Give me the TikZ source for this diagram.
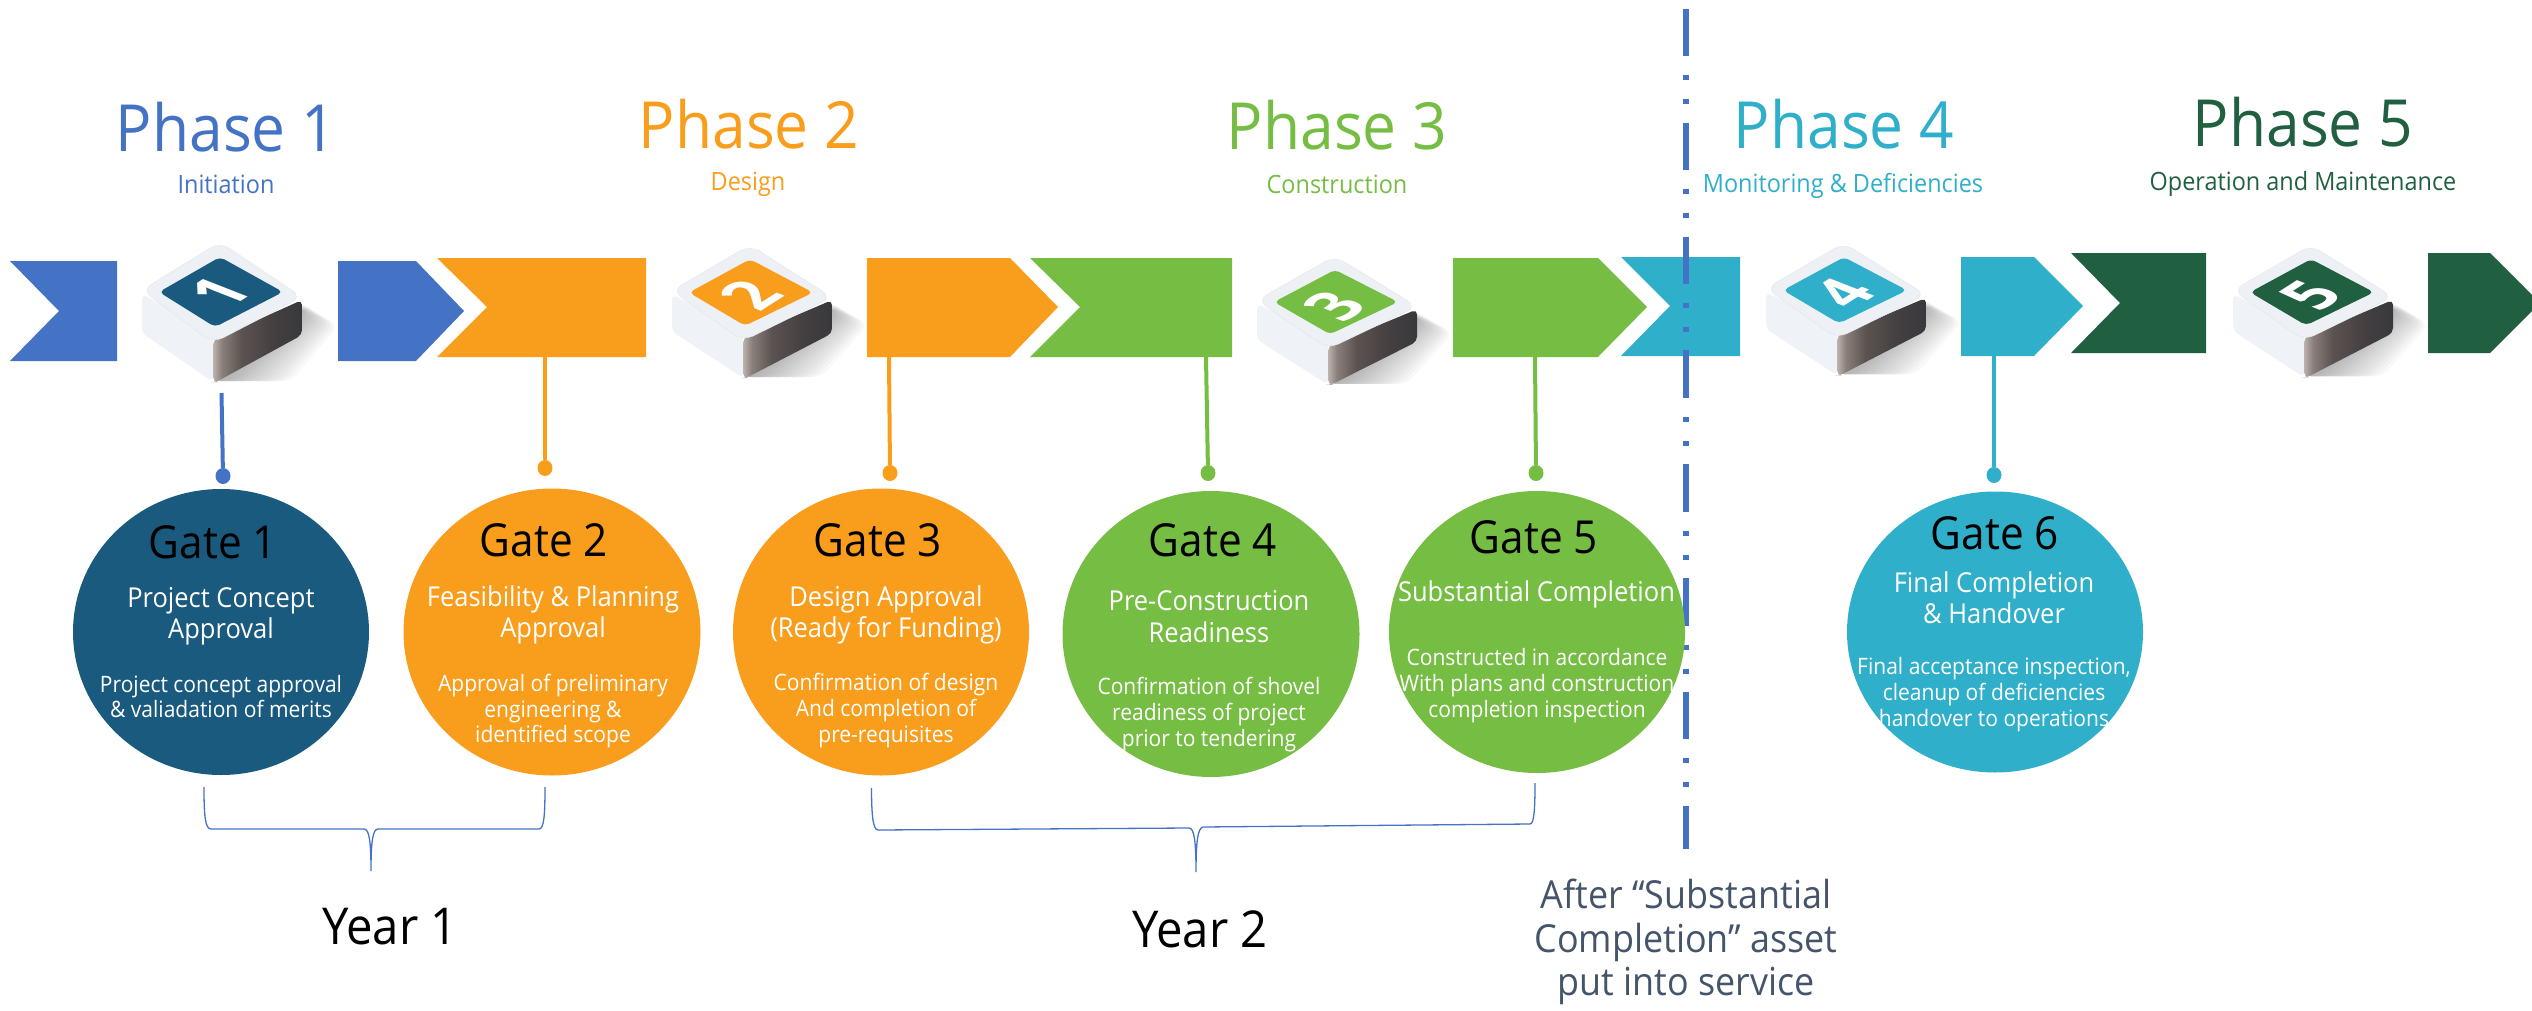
\documentclass[tikz,border=0pt]{standalone}
\usepackage{fontspec}
\setmainfont[FakeStretch=0.93]{Open Sans}
\usetikzlibrary{shapes.geometric}
\definecolor{cblue}{HTML}{4472C4}
\definecolor{corange}{HTML}{F99D1C}
\definecolor{cgreen}{HTML}{76BD43}
\definecolor{cteal}{HTML}{2FAFC9}
\definecolor{cdark}{HTML}{206040}
\definecolor{cnavy}{HTML}{1A5A7E}
\definecolor{cslate}{HTML}{44546A}
\definecolor{cface}{HTML}{EDF1F5}
\definecolor{cside}{HTML}{EFF2F6}
\definecolor{cshA}{HTML}{BDB3AD}
\definecolor{cshB}{HTML}{8A7F7A}
\definecolor{cshC}{HTML}{5B5351}
\definecolor{cshD}{HTML}{454041}
\definecolor{cshE}{HTML}{38383C}
\pgfdeclarehorizontalshading{cubeside}{100bp}{color(0bp)=(cshA); color(25bp)=(cshA); color(30bp)=(cshB); color(41bp)=(cshC); color(58bp)=(cshD); color(75bp)=(cshE); color(100bp)=(cshE)}
\newcommand{\fs}[1]{\fontsize{#1}{#1}\selectfont}
% cube: top vertex x, top vertex y, yscale, colour, digit
\newcommand{\keycube}[5]{%
\begin{scope}[shift={(#1,#2)},yscale=#3]
 \foreach \g in {0,...,14}{
  \fill[black,opacity=.024,rounded corners=8pt] (80,{60+.4*\g}) -- ({118-2.5*\g},{84-1.0*\g}) -- ({72-5*\g},139) -- (-7,139) -- cycle;}
 \fill[cside,rounded corners=5pt] (-78,52) -- (-78,91) -- (-7,140) -- (-7,90) -- cycle;
 \shade[shading=cubeside,rounded corners=5pt] (-7,98) -- (82,58) -- (82,93) -- (-4,140) -- (-7,140) -- cycle;
 \fill[cface,draw=black!10,line width=.4pt,rounded corners=11pt] (0,0) -- (82,55) -- (-7,101) -- (-78,48) -- cycle;
 \fill[#4,rounded corners=5pt] (0,15) -- (63,50) -- (-5,85) -- (-61,50) -- cycle;
 \node[inner sep=0,text=white,font=\fs{68}\bfseries,cm={.75,.48,-.92,.36,(0,50)}] {#5};
\end{scope}}
\tikzset{
 gate/.style={ellipse,inner sep=0,fill=#1},
 dotnode/.style={ellipse,inner sep=0,minimum width=15pt,minimum height=16pt,fill=#1},
 conn/.style={draw=#1,line width=4pt},
 brace/.style={draw=cblue,line width=1.3pt},
 lab/.style={inner sep=0,anchor=base,align=center},
 phase/.style={lab,font=\fs{65}},
 sub/.style={lab,font=\fs{25.2}},
 gt/.style={lab,text=black,font=\fs{45.5}},
 bd/.style={lab,text=white,font=\fs{27.4}},
 sm/.style={lab,text=white,font=\fs{22.6}},
 yr/.style={lab,text=black,font=\fs{50.8}},
 after/.style={lab,text=cslate,font=\fs{38.6}},
}
\begin{document}
\begin{tikzpicture}[x=1pt,y=-1pt]
\useasboundingbox (0,0) rectangle (2532,1011);
% band
\fill[cblue] (10,261) -- (117,261) -- (117,361) -- (10,361) -- (59,311) -- cycle;
\fill[cblue] (338,261) -- (416,261) -- (464,311) -- (416,361) -- (338,361) -- cycle;
\fill[corange] (437,258) -- (646,258) -- (646,357) -- (437,357) -- (487,307) -- cycle;
\fill[corange] (867,258) -- (1010,258) -- (1058,307) -- (1010,357) -- (867,357) -- cycle;
\fill[cgreen] (1030,258) -- (1232,258) -- (1232,357) -- (1030,357) -- (1080,307) -- cycle;
\fill[cgreen] (1453,258) -- (1598,258) -- (1647,307) -- (1598,357) -- (1453,357) -- cycle;
\fill[cteal] (1621,257) -- (1740,257) -- (1740,356) -- (1621,356) -- (1670,306) -- cycle;
\fill[cteal] (1961,257) -- (2034,257) -- (2083,306) -- (2034,356) -- (1961,356) -- cycle;
\fill[cdark] (2071,253) -- (2206,253) -- (2206,353) -- (2071,353) -- (2120,303) -- cycle;
\fill[cdark] (2428,253) -- (2490,253) -- (2532,295) -- (2532,311) -- (2490,353) -- (2428,353) -- cycle;
% cubes
\keycube{220}{242}{1}{cnavy}{1}
\keycube{750}{245}{.95}{corange}{2}
\keycube{1335}{256}{.92}{cgreen}{3}
\keycube{1844}{243}{.945}{cteal}{4}
\keycube{2311}{245}{.945}{cdark}{5}
% divider
\coordinate (divtop) at (1686,9);
\coordinate (divbot) at (1686,849);
\draw[cblue,line width=6pt,dash pattern=on 47.5pt off 19pt on 5pt off 19pt on 5pt off 18.3pt] (divtop) -- (divbot);
% gates
\node[gate=cnavy,minimum width=296pt,minimum height=286pt] (g1) at (221,632) {};
\node[gate=corange,minimum width=297pt,minimum height=287pt] (g2) at (552,632) {};
\node[gate=corange,minimum width=296pt,minimum height=287pt] (g3) at (881,632) {};
\node[gate=cgreen,minimum width=297pt,minimum height=286pt] (g4) at (1211,634) {};
\node[gate=cgreen,minimum width=296pt,minimum height=282pt] (g5) at (1537,632) {};
\node[gate=cteal,minimum width=296pt,minimum height=281pt] (g6) at (1995,632) {};
% connectors
\coordinate (t1) at (221.5,393);
\coordinate (t2) at (545,357);
\coordinate (t3) at (889,357);
\coordinate (t4) at (1206,357);
\coordinate (t5) at (1535,357);
\coordinate (t6) at (1994,356);
\node[dotnode=cblue] (d1) at (223,476) {};
\node[dotnode=corange] (d2) at (545,468) {};
\node[dotnode=corange] (d3) at (890,473) {};
\node[dotnode=cgreen] (d4) at (1208,473) {};
\node[dotnode=cgreen] (d5) at (1536,473) {};
\node[dotnode=cteal] (d6) at (1994,475) {};
\draw[conn=cblue] (t1) -- (d1);
\draw[conn=corange] (t2) -- (d2);
\draw[conn=corange] (t3) -- (d3);
\draw[conn=cgreen] (t4) -- (d4);
\draw[conn=cgreen] (t5) -- (d5);
\draw[conn=cteal] (t6) -- (d6);
% braces
\draw[brace] (204,787) .. controls (204,815) and (205,829) .. (211,829) -- (364,829) .. controls (369,829) and (371,840) .. (371,871) .. controls (371,840) and (373,829) .. (378,829) -- (539,829) .. controls (544,829) and (545,815) .. (545,787);
\draw[brace] (871.5,788) .. controls (871.5,815) and (873,830) .. (878,830) -- (1189,828) .. controls (1194,828) and (1196,840) .. (1196,872) .. controls (1196,840) and (1198,828) .. (1203,827) -- (1530,824) .. controls (1534,824) and (1535,810) .. (1535,783);
% phase labels
\node[phase,text=cblue] (p1) at (226,152) {Phase 1};
\node[sub,text=cblue] (s1) at (226,194) {Initiation};
\node[phase,text=corange] (p2) at (749,149) {Phase 2};
\node[sub,text=corange] (s2) at (748,191) {Design};
\node[phase,text=cgreen] (p3) at (1337,150) {Phase 3};
\node[sub,text=cgreen] (s3) at (1337,194) {Construction};
\node[phase,text=cteal] (p4) at (1844,149) {Phase 4};
\node[sub,text=cteal] (s4) at (1843,193) {Monitoring \& Deficiencies};
\node[phase,text=cdark] (p5) at (2303,147) {Phase 5};
\node[sub,text=cdark] (s5) at (2303,191) {Operation and Maintenance};
% gate texts
\node[gt] (gt1) at (213,558) {Gate 1};
\node[bd] (b1a) at (221,607) {Project Concept};
\node[bd] (b1b) at (221,638) {Approval};
\node[sm] (m1a) at (221,692) {Project concept approval};
\node[sm] (m1b) at (221,717) {\& valiadation of merits};
\node[gt] (gt2) at (544,556) {Gate 2};
\node[bd] (b2a) at (553,606) {Feasibility \& Planning};
\node[bd] (b2b) at (553,637) {Approval};
\node[sm] (m2a) at (553,691) {Approval of preliminary};
\node[sm] (m2b) at (553,717) {engineering \&};
\node[sm] (m2c) at (553,742) {identified scope};
\node[gt] (gt3) at (878,556) {Gate 3};
\node[bd] (b3a) at (886,606) {Design Approval};
\node[bd] (b3b) at (886,637) {(Ready for Funding)};
\node[sm] (m3a) at (886,690) {Confirmation of design};
\node[sm] (m3b) at (886,716) {And completion of};
\node[sm] (m3c) at (886,742) {pre-requisites};
\node[gt] (gt4) at (1213,556) {Gate 4};
\node[bd] (b4a) at (1209,610) {Pre-Construction};
\node[bd] (b4b) at (1209,642) {Readiness};
\node[sm] (m4a) at (1209,694) {Confirmation of shovel};
\node[sm] (m4b) at (1209,720) {readiness of project};
\node[sm] (m4c) at (1209,746) {prior to tendering};
\node[gt] (gt5) at (1534,553) {Gate 5};
\node[bd] (b5a) at (1536.5,601) {Substantial Completion};
\node[sm] (m5a) at (1537,665) {Constructed in accordance};
\node[sm] (m5b) at (1537,691) {With plans and construction};
\node[sm] (m5c) at (1537,717) {completion inspection};
\node[gt] (gt6) at (1995,549) {Gate 6};
\node[bd] (b6a) at (1994,592) {Final Completion};
\node[bd] (b6b) at (1994,623) {\& Handover};
\node[sm] (m6a) at (1994,674) {Final acceptance inspection,};
\node[sm] (m6b) at (1994,700) {cleanup of deficiencies};
\node[sm] (m6c) at (1994,726) {handover to operations};
% years
\node[yr] (y1) at (390,944) {Year 1};
\node[yr] (y2) at (1200,947) {Year 2};
\node[after] (a1) at (1686,908) {After “Substantial};
\node[after] (a2) at (1686,952) {Completion” asset};
\node[after] (a3) at (1686,995) {put into service};
\end{tikzpicture}
\end{document}
